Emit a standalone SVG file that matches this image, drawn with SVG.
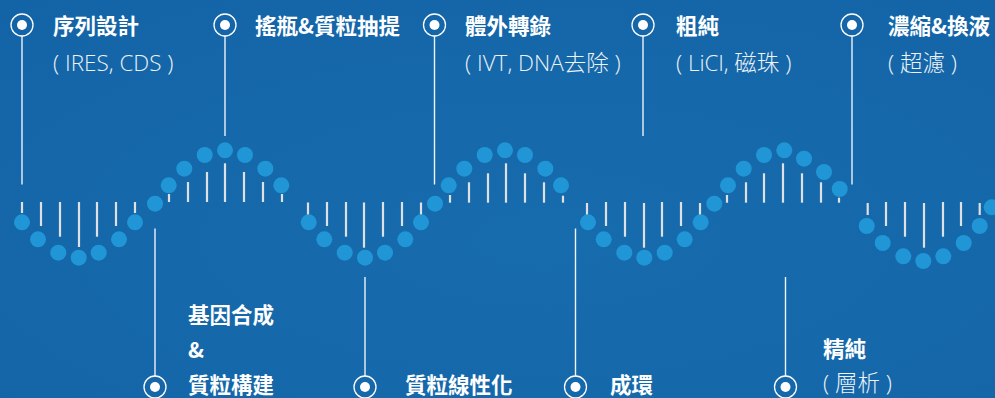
<svg xmlns="http://www.w3.org/2000/svg" width="995" height="398" viewBox="0 0 995 398">
<defs>
<radialGradient id="bg" cx="0.55" cy="0.6" r="0.8">
<stop offset="0" stop-color="#176cad"/>
<stop offset="1" stop-color="#1364a7"/>
</radialGradient>
<g id="mk"><circle r="11" fill="none" stroke="#ffffff" stroke-width="1.3"/><circle r="5" fill="#ffffff"/></g>
</defs>
<style>
.t{font-family:"Noto Sans CJK TC","Noto Sans CJK SC",sans-serif;font-weight:700;font-size:21.5px;fill:#ffffff}
.s{font-family:"Open Sans","Noto Sans CJK TC",sans-serif;font-weight:300;font-size:22.5px;fill:#eef3f8}
.ln{stroke:#eef3f8;stroke-width:1.4;fill:none}
.d{fill:#2096d7}
.b{stroke:#dde1e4;stroke-width:2.2}
</style>
<rect width="995" height="398" fill="url(#bg)"/>
<g id="helix">
<g class="b">
<line x1="22" y1="202" x2="22" y2="213"/><line x1="41" y1="202" x2="41" y2="226"/><line x1="60" y1="202" x2="60" y2="236.7"/><line x1="79" y1="202" x2="79" y2="247"/><line x1="97" y1="202" x2="97" y2="236.7"/><line x1="116" y1="202" x2="116" y2="226"/><line x1="135" y1="202" x2="135" y2="213"/>
<line x1="169" y1="202" x2="169" y2="194"/><line x1="188" y1="202" x2="188" y2="182"/><line x1="207" y1="202" x2="207" y2="172"/><line x1="225" y1="202" x2="225" y2="163.3"/><line x1="244" y1="202" x2="244" y2="172"/><line x1="263" y1="202" x2="263" y2="182"/><line x1="282" y1="202" x2="282" y2="194"/>
<line x1="308" y1="202.5" x2="308" y2="215"/><line x1="327" y1="202" x2="327" y2="226"/><line x1="346" y1="202" x2="346" y2="236.7"/><line x1="364" y1="202.5" x2="364" y2="247.7"/><line x1="383" y1="202" x2="383" y2="236.7"/><line x1="402" y1="202" x2="402" y2="226"/><line x1="421" y1="202.5" x2="421" y2="215"/>
<line x1="450" y1="202.7" x2="450" y2="195"/><line x1="469" y1="202.7" x2="469" y2="182.3"/><line x1="488" y1="202.7" x2="488" y2="173.3"/><line x1="506" y1="202.7" x2="506" y2="163.3"/><line x1="525" y1="202.7" x2="525" y2="173.3"/><line x1="544" y1="202.7" x2="544" y2="182.3"/><line x1="563" y1="202.7" x2="563" y2="195.7"/>
<line x1="587" y1="203" x2="587" y2="215"/><line x1="606" y1="202" x2="606" y2="226"/><line x1="625" y1="202" x2="625" y2="236.7"/><line x1="644" y1="203" x2="644" y2="247.7"/><line x1="662" y1="202" x2="662" y2="236.7"/><line x1="681" y1="202" x2="681" y2="226"/><line x1="700" y1="203" x2="700" y2="215"/>
<line x1="727" y1="202.7" x2="727" y2="195"/><line x1="746" y1="202.7" x2="746" y2="182.3"/><line x1="764" y1="202.7" x2="764" y2="173.3"/><line x1="783" y1="202.7" x2="783" y2="163.3"/><line x1="802" y1="202.7" x2="802" y2="173.3"/><line x1="821" y1="202.7" x2="821" y2="182.3"/><line x1="839" y1="202.7" x2="839" y2="197.7"/>
<line x1="867.7" y1="203" x2="867.7" y2="215"/><line x1="886" y1="202" x2="886" y2="226"/><line x1="905" y1="202" x2="905" y2="236.7"/><line x1="924" y1="203" x2="924" y2="247.7"/><line x1="943" y1="202" x2="943" y2="236.7"/><line x1="961" y1="202" x2="961" y2="226"/><line x1="979.7" y1="203" x2="979.7" y2="215"/>
</g>
<g class="d">
<circle cx="22" cy="222.3" r="8"/><circle cx="38" cy="239.3" r="8"/><circle cx="58.3" cy="252.7" r="8"/><circle cx="78.7" cy="257.7" r="8"/><circle cx="98.7" cy="252.7" r="8"/><circle cx="119" cy="239.3" r="8"/><circle cx="135" cy="222.3" r="8"/>
<circle cx="155" cy="203.7" r="8"/>
<circle cx="168.7" cy="185.3" r="8"/><circle cx="184.3" cy="168.7" r="8"/><circle cx="204.7" cy="155" r="8"/><circle cx="225" cy="150.3" r="8"/><circle cx="245" cy="155" r="8"/><circle cx="265.3" cy="168.7" r="8"/><circle cx="281.3" cy="185.3" r="8"/>
<circle cx="308.7" cy="222.3" r="8"/><circle cx="324.3" cy="239.3" r="8"/><circle cx="344.7" cy="252.7" r="8"/><circle cx="365" cy="257.7" r="8"/><circle cx="385" cy="252.7" r="8"/><circle cx="405.3" cy="239.3" r="8"/><circle cx="421" cy="222.3" r="8"/>
<circle cx="435" cy="203.7" r="8"/>
<circle cx="448.7" cy="185.3" r="8"/><circle cx="464.3" cy="168.7" r="8"/><circle cx="484.7" cy="155" r="8"/><circle cx="505" cy="150.3" r="8"/><circle cx="525" cy="155" r="8"/><circle cx="545.3" cy="168.7" r="8"/><circle cx="561" cy="185.3" r="8"/>
<circle cx="588" cy="222.3" r="8"/><circle cx="603.7" cy="239.3" r="8"/><circle cx="624.3" cy="252.7" r="8"/><circle cx="644.3" cy="257.7" r="8"/><circle cx="664.7" cy="252.7" r="8"/><circle cx="684.7" cy="239.3" r="8"/><circle cx="700.7" cy="222.3" r="8"/>
<circle cx="714.3" cy="203.7" r="8"/>
<circle cx="728" cy="185.3" r="8"/><circle cx="743.7" cy="168.7" r="8"/><circle cx="764" cy="155" r="8"/><circle cx="784.3" cy="150.3" r="8"/><circle cx="804" cy="158.7" r="8"/><circle cx="824" cy="172" r="8"/><circle cx="839.7" cy="189" r="8"/>
<circle cx="866.7" cy="226" r="8"/><circle cx="882.7" cy="243" r="8"/><circle cx="903.3" cy="256.3" r="8"/><circle cx="923.3" cy="261" r="8"/><circle cx="943.3" cy="256.3" r="8"/><circle cx="963.7" cy="243" r="8"/><circle cx="979.7" cy="226" r="8"/>
<circle cx="991.7" cy="207.3" r="8"/>
</g>
</g>
<g id="connectors" class="ln">
<line x1="22" y1="36" x2="22" y2="184.5"/>
<line x1="225" y1="36" x2="225" y2="136"/>
<line x1="434.5" y1="36" x2="434.5" y2="184.5"/>
<line x1="643" y1="36" x2="643" y2="136"/>
<line x1="852" y1="36" x2="852" y2="184.5"/>
<line x1="155" y1="228.5" x2="155" y2="376"/>
<line x1="365" y1="277" x2="365" y2="376"/>
<line x1="575.5" y1="228.5" x2="575.5" y2="376"/>
<line x1="785.5" y1="277" x2="785.5" y2="376"/>
</g>
<g id="n1"><use href="#mk" x="22" y="25"/><text class="t" x="53" y="34">序列設計</text><text class="s" x="53" y="71">( IRES, CDS )</text></g>
<g id="n2"><use href="#mk" x="225" y="25"/><text class="t" x="255" y="34">搖瓶&amp;質粒抽提</text></g>
<g id="n3"><use href="#mk" x="434.5" y="25"/><text class="t" x="465" y="34">體外轉錄</text><text class="s" x="465" y="71">( IVT, DNA去除 )</text></g>
<g id="n4"><use href="#mk" x="643" y="25"/><text class="t" x="676" y="34">粗純</text><text class="s" x="676" y="71">( LiCl, 磁珠 )</text></g>
<g id="n5"><use href="#mk" x="852" y="25"/><text class="t" x="888" y="34">濃縮&amp;換液</text><text class="s" x="888" y="71">( 超濾 )</text></g>
<g id="n6"><use href="#mk" x="155" y="387"/><text class="t" x="188" y="323">基因合成</text><text class="t" x="188" y="358">&amp;</text><text class="t" x="188" y="393">質粒構建</text></g>
<g id="n7"><use href="#mk" x="365" y="387"/><text class="t" x="405" y="393">質粒線性化</text></g>
<g id="n8"><use href="#mk" x="575.5" y="387"/><text class="t" x="610" y="393">成環</text></g>
<g id="n9"><use href="#mk" x="785.5" y="387"/><text class="t" x="823" y="357">精純</text><text class="s" x="823" y="391">( 層析 )</text></g>
</svg>
